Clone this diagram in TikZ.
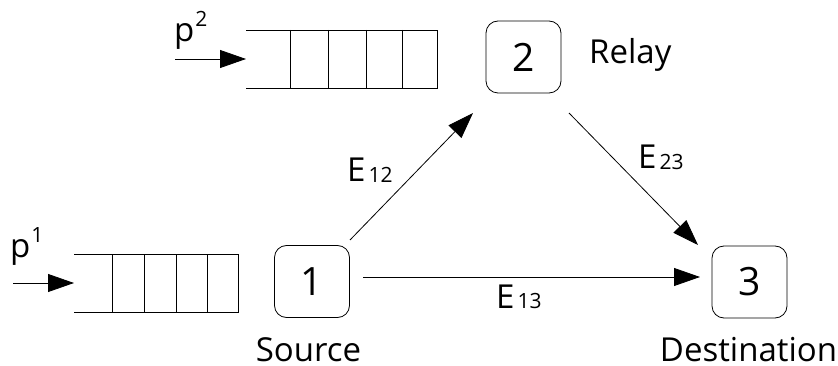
\documentclass[tikz,border=0pt]{standalone}
\usepackage{fontspec}
\setmainfont{Open Sans}
\usetikzlibrary{arrows.meta}
\newcommand{\lbl}{\fontsize{33}{38}\selectfont}
\newcommand{\subs}[1]{\hspace{3pt}\raisebox{-0.5pt}{\fontsize{21}{24}\selectfont #1}}
\newcommand{\sups}[1]{\hspace{1pt}\raisebox{15pt}{\fontsize{21}{24}\selectfont #1}}
\begin{document}
\begin{tikzpicture}[x=1pt,y=-1pt,
  nodebox/.style={draw,line width=0.8pt,rounded corners=12pt,minimum width=75pt,minimum height=72pt,inner sep=0pt,font=\fontsize{39}{44}\selectfont},
  edge/.style={line width=0.8pt,-{Triangle[length=26pt,width=18pt]}},
  qline/.style={line width=0.8pt},
  txt/.style={inner sep=0pt,font=\lbl}]
\useasboundingbox (0,0) rectangle (838,366);
% nodes
\node[nodebox] (n1) at (312,281.5) {1};
\node[nodebox] (n2) at (523.5,57) {2};
\node[nodebox] (n3) at (749.5,282) {3};
% queues
\coordinate (q2tl) at (246,30);
\coordinate (q2bl) at (246,88);
\coordinate (q2tr) at (437,30);
\coordinate (q2br) at (437,88);
\draw[qline] (q2tl) -- (q2tr) -- (q2br) -- (q2bl);
\foreach \x in {290,328,366,402} \draw[qline] (\x,30) -- (\x,88);
\coordinate (q2in) at (175,59);
\coordinate (q2end) at (246,59);
\draw[edge] (q2in) -- (q2end);
\coordinate (q1tl) at (74,254);
\coordinate (q1bl) at (74,312);
\coordinate (q1tr) at (238,254);
\coordinate (q1br) at (238,312);
\draw[qline] (q1tl) -- (q1tr) -- (q1br) -- (q1bl);
\foreach \x in {112,144,176,207} \draw[qline] (\x,254) -- (\x,312);
\coordinate (q1in) at (13,283);
\coordinate (q1end) at (74,283);
\draw[edge] (q1in) -- (q1end);
% edges
\coordinate (e12s) at (350,240);
\coordinate (e12t) at (473,113);
\draw[edge] (e12s) -- (e12t);
\coordinate (e23s) at (569,113);
\coordinate (e23t) at (698,245);
\draw[edge] (e23s) -- (e23t);
\coordinate (e13s) at (363,277);
\coordinate (e13t) at (700,277);
\draw[edge] (e13s) -- (e13t);
% labels
\node[txt,anchor=base west] (lp2) at (174,42) {p\sups{2}};
\node[txt,anchor=base west] (lp1) at (10,258) {p\sups{1}};
\node[txt,anchor=base west] (lrelay) at (589,64) {Relay};
\node[txt,anchor=base west] (le12) at (347,182) {E\subs{12}};
\node[txt,anchor=base west] (le23) at (638,169) {E\subs{23}};
\node[txt,anchor=base west] (le13) at (496,308) {E\subs{13}};
\node[txt,anchor=base,text depth=0pt] (lsrc) at (308.5,361) {Source};
\node[txt,anchor=base,text depth=0pt] (ldst) at (748.5,361) {Destination};
\end{tikzpicture}
\end{document}
